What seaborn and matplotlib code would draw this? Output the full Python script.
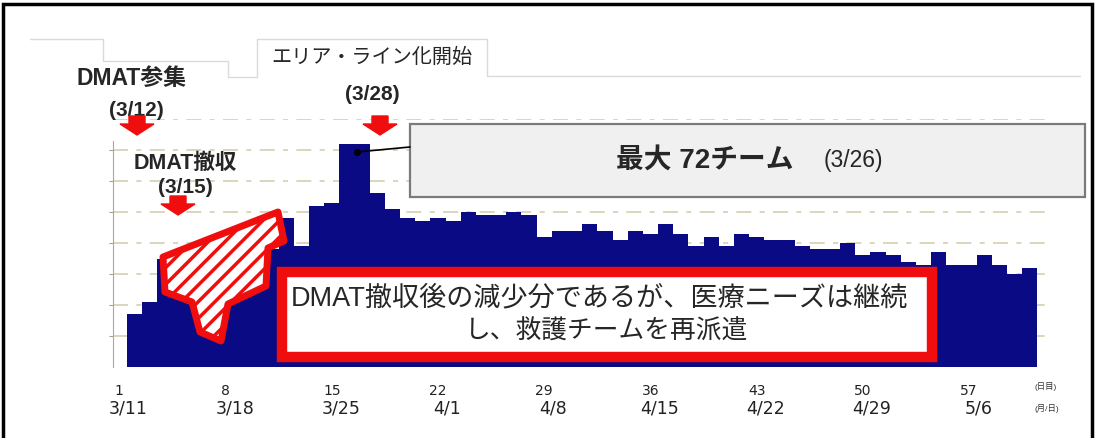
import numpy as np
import pandas as pd
import matplotlib
matplotlib.use("Agg")
import matplotlib.pyplot as plt
import matplotlib.transforms as mtransforms
from matplotlib.patches import Polygon, Rectangle
from matplotlib.lines import Line2D
import seaborn as sns

# teams per day (day 1 = 3/11)
day_no = list(range(1, 61))
teams = [17, 21, 35, 35, 33, 28, 27, 28, 31, 38,
         48, 39, 52, 53, 72, 72, 56, 51, 48, 47,
         48, 47, 50, 49, 49, 50, 49, 42, 44, 44,
         46, 44, 41, 44, 43, 46, 43, 39, 42, 39,
         43, 42, 41, 41, 39, 38, 38, 40, 36, 37,
         36, 34, 33, 37, 33, 33, 36, 33, 30, 32]
tick_days = [1, 8, 15, 22, 29, 36, 43, 50, 57]
tick_dates = ["3/11", "3/18", "3/25", "4/1", "4/8", "4/15", "4/22", "4/29", "5/6"]
grid_levels = [10, 20, 30, 40, 50, 60, 70, 80]

navy = "#0a0a84"
red = "#f00d0d"
grid_col = "#d4ceb2"

sns.set_style("white")
plt.rcParams["font.family"] = ["Liberation Sans", "Noto Sans CJK JP"]
plt.rcParams["hatch.linewidth"] = 2.5

W, H = 1097, 439
fig = plt.figure(figsize=(W / 100, H / 100), dpi=100)


def px(x, y):
    return (x / W, 1 - y / H)


ax = fig.add_axes([113 / W, 1 - 368 / H, (1045 - 113) / W, (368 - 120) / H])
ax.set_facecolor("none")

df = pd.DataFrame({"day": day_no, "teams": teams})
sns.barplot(data=df, x="day", y="teams", color=navy, width=1.0,
            saturation=1, linewidth=0, ax=ax, zorder=2)

for g in grid_levels:
    ax.axhline(g, color=grid_col, lw=1.2, ls=(0, (9, 5, 3, 5)), zorder=1)

ax.set_xlim(-1.42, 60.0)
ax.set_ylim(0, 80)
ax.set_xticks([])
ax.set_yticks(grid_levels[:-1])
ax.set_yticklabels([])
ax.tick_params(axis="y", length=3, color="#a0a0a0", left=True)
ax.set_xlabel("")
ax.set_ylabel("")
for s in ["top", "right", "bottom"]:
    ax.spines[s].set_visible(False)
ax.spines["left"].set_color("#a8a8a8")
ax.spines["left"].set_bounds(0, 73)

# x labels: day count and date
tr = mtransforms.blended_transform_factory(ax.transData, fig.transFigure)
for d, lab in zip(tick_days, tick_dates):
    ax.text(d - 2.0, 1 - 391 / H, str(d), transform=tr, ha="center", va="center",
            fontsize=10, color="#222222", family="DejaVu Sans")
    ax.text(d - 1.4, 1 - 409 / H, lab, transform=tr, ha="center", va="center",
            fontsize=12.5, color="#222222", family="DejaVu Sans")
fig.text(*px(1046, 387), "(日目)", ha="center", va="center", fontsize=6, color="#333333")
fig.text(*px(1047, 409), "(月/日)", ha="center", va="center", fontsize=6, color="#333333")

# faint tab outline at the top
tab = [(30, 40), (103, 40), (103, 62), (228, 62), (228, 78), (257, 78),
       (257, 40), (487, 40), (487, 77), (1080, 77)]
fig.lines.append(Line2D([px(*p)[0] for p in tab], [px(*p)[1] for p in tab],
                        transform=fig.transFigure, color="#dadada", lw=1))


def down_arrow(cx, ytop):
    pts = [(cx - 8, ytop), (cx + 8, ytop), (cx + 8, ytop + 8), (cx + 17, ytop + 8),
           (cx, ytop + 19), (cx - 17, ytop + 8), (cx - 8, ytop + 8)]
    fig.patches.append(Polygon([px(*p) for p in pts], closed=True,
                               transform=fig.transFigure, color=red, zorder=4))


# event labels
fig.text(*px(132, 78), "DMAT参集", ha="center", va="center", fontsize=16.5, fontweight="bold")
fig.text(*px(136, 110), "(3/12)", ha="center", va="center", fontsize=15, fontweight="bold")
down_arrow(137, 117)
fig.text(*px(185, 163), "DMAT撤収", ha="center", va="center", fontsize=15.5, fontweight="bold")
fig.text(*px(185, 188), "(3/15)", ha="center", va="center", fontsize=15, fontweight="bold")
down_arrow(178, 197)
fig.text(*px(372, 57), "エリア・ライン化開始", ha="center", va="center", fontsize=14.5)
fig.text(*px(372, 95), "(3/28)", ha="center", va="center", fontsize=15, fontweight="bold")
down_arrow(380, 117)

# max callout
fig.patches.append(Rectangle(px(410, 198), 675 / W, 73 / H, transform=fig.transFigure,
                             facecolor="#f0f0f0", edgecolor="#7a7a7a", lw=1.6, zorder=2))
fig.lines.append(Line2D([px(357, 153)[0], px(410, 148)[0]], [px(357, 153)[1], px(410, 148)[1]],
                        transform=fig.transFigure, color="black", lw=1.2, zorder=3))
fig.lines.append(Line2D([px(357, 153)[0]], [px(357, 153)[1]], transform=fig.transFigure,
                        marker="o", ms=4, color="black", zorder=3))
fig.text(*px(705, 161), "最大 72チーム", ha="center", va="center", fontsize=20,
         fontweight="bold", zorder=5)
fig.text(*px(853, 161), "(3/26)", ha="center", va="center", fontsize=16.5, zorder=5)

# hatched decrease arrow
shape = [(163, 258), (278, 213), (284, 242), (268, 249), (266, 287), (228, 305),
         (221, 342), (200, 333), (192, 303), (165, 293)]
fig.patches.append(Polygon([px(*p) for p in shape], closed=True, transform=fig.transFigure,
                           facecolor="white", edgecolor=red, hatch="//", lw=5, zorder=3,
                           joinstyle="round"))

# red message box
fig.patches.append(Rectangle(px(282, 358), 650 / W, 85 / H, transform=fig.transFigure,
                             facecolor="white", edgecolor=red, lw=7.5, zorder=3))
fig.text(*px(599, 298), "DMAT撤収後の減少分であるが、医療ニーズは継続",
         ha="center", va="center", fontsize=19.5, zorder=5)
fig.text(*px(607, 332), "し、救護チームを再派遣",
         ha="center", va="center", fontsize=18.5, zorder=5)

# outer frame
fig.patches.append(Rectangle(px(3, 445), 1089 / W, 440 / H, transform=fig.transFigure,
                             facecolor="none", edgecolor="black", lw=2.5, zorder=6))

fig.savefig("out.png", dpi=100)
